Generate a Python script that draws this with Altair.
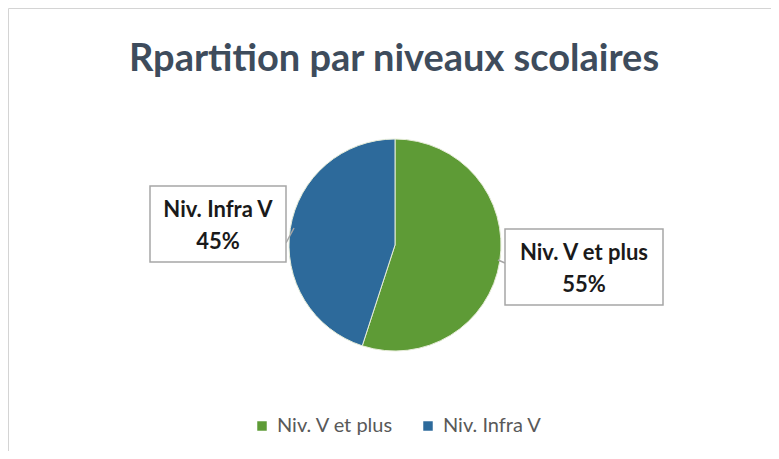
import altair as alt
import pandas as pd

categories = ["Niv. V et plus", "Niv. Infra V"]
values = [55, 45]
colors = ["#5e9b36", "#2d6a9b"]
title_text = "Rpartition par niveaux scolaires"

df = pd.DataFrame({"category": categories, "value": values, "idx": list(range(len(categories)))})

W, H = 763, 443
CX, CY, R = 387, 237, 106
FONT = "Lato"

base = alt.Chart(df)

pie = base.mark_arc(outerRadius=R, stroke="#e6ecd8", strokeWidth=1).encode(
    theta=alt.Theta("value:Q", stack=True),
    color=alt.Color(
        "category:N",
        scale=alt.Scale(domain=categories, range=colors),
        legend=alt.Legend(
            title=None, orient="none", legendX=244, legendY=408, direction="horizontal",
            symbolType="square", symbolSize=90, symbolStrokeWidth=0,
            labelFontSize=20, labelFont=FONT, labelColor="#595959", columnPadding=24,
            labelOffset=5,
        ),
    ),
    order=alt.Order("idx:Q"),
    x=alt.value(CX),
    y=alt.value(CY),
)

title = alt.Chart(pd.DataFrame({"t": [title_text]})).mark_text(
    font=FONT, fontSize=38, fontWeight="bold", color="#3e4c5c", align="center", baseline="middle"
).encode(text="t:N", x=alt.value(386), y=alt.value(52))


def label_box(cat, x0, x1, y0, y1, lx0, ly0, lx1, ly1):
    box = alt.Chart(pd.DataFrame({"k": [0]})).mark_rect(
        fill="white", stroke="#a6a6a6", strokeWidth=1.5
    ).encode(x=alt.value(x0), x2=alt.value(x1), y=alt.value(y0), y2=alt.value(y1))
    leader = alt.Chart(pd.DataFrame({"k": [0]})).mark_rule(
        color="#a6a6a6", strokeWidth=1.5
    ).encode(x=alt.value(lx0), x2=alt.value(lx1), y=alt.value(ly0), y2=alt.value(ly1))
    txt = base.transform_filter(alt.datum.category == cat).transform_calculate(
        lab=alt.datum.category + "\n" + alt.datum.value + "%"
    ).mark_text(
        font=FONT, fontSize=22, fontWeight="bold", color="#1a1a1a", align="center",
        baseline="middle", lineBreak="\n", lineHeight=32
    ).encode(text="lab:N", x=alt.value((x0 + x1) / 2), y=alt.value((y0 + y1) / 2 - 14))
    return leader + box + txt


left = label_box("Niv. Infra V", 142, 278, 178, 254, 278, 235, 286, 220)
right = label_box("Niv. V et plus", 497, 655, 221, 297, 490, 252, 497, 255)

chart = alt.layer(pie, left, right, title).properties(
    width=W, height=H, autosize=alt.AutoSizeParams(type="none"), padding=0, background="white"
).configure_view(stroke="#d4d4d4", strokeWidth=1)

chart.save("out.html", embed_options={"renderer": "svg", "actions": False})
